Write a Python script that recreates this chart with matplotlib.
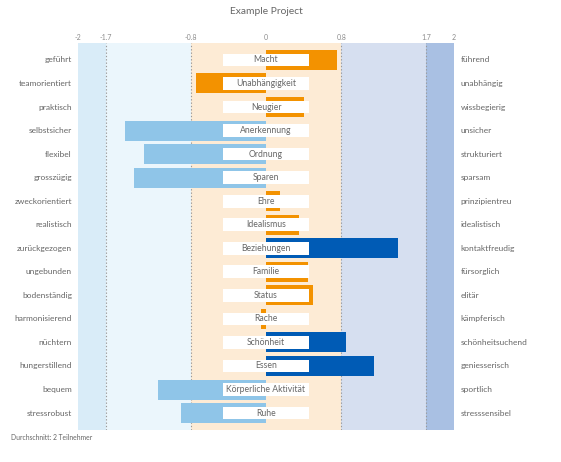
import matplotlib
matplotlib.use("Agg")
import matplotlib.pyplot as plt

# Profile data: one row per dimension, values between -2 and 2
dimensions = ["Macht", "Unabhängigkeit", "Neugier", "Anerkennung", "Ordnung",
              "Sparen", "Ehre", "Idealismus", "Beziehungen", "Familie",
              "Status", "Rache", "Schönheit", "Essen",
              "Körperliche Aktivität", "Ruhe"]
left_poles = ["geführt", "teamorientiert", "praktisch", "selbstsicher",
              "flexibel", "grosszügig", "zweckorientiert", "realistisch",
              "zurückgezogen", "ungebunden", "bodenständig", "harmonisierend",
              "nüchtern", "hungerstillend", "bequem", "stressrobust"]
right_poles = ["führend", "unabhängig", "wissbegierig", "unsicher",
               "strukturiert", "sparsam", "prinzipientreu", "idealistisch",
               "kontaktfreudig", "fürsorglich", "elitär", "kämpferisch",
               "schönheitsuchend", "geniesserisch", "sportlich", "stresssensibel"]
values = [0.75, -0.75, 0.4, -1.5, -1.3, -1.4, 0.15, 0.35, 1.4, 0.45,
          0.5, -0.05, 0.85, 1.15, -1.15, -0.9]

band_edges = [-2, -1.7, -0.8, 0.8, 1.7, 2]
band_colors = ["#d9ecf8", "#ebf6fc", "#fdebd5", "#d6dff0", "#a9c0e3"]
tick_vals = [-2, -1.7, -0.8, 0, 0.8, 1.7, 2]
tick_labels = ["-2", "-1.7", "-0.8", "0", "0.8", "1.7", "2"]

ORANGE = "#f39200"
LIGHT_BLUE = "#8fc5e8"
DARK_BLUE = "#005bb5"
GREY = "#666666"

plt.rcParams['font.family'] = ['Lato', 'DejaVu Sans']

fig = plt.figure(figsize=(5.61, 4.62), dpi=100)
ax = fig.add_axes([78 / 561, 1 - 430 / 462, 376 / 561, 387 / 462])

n = len(dimensions)
for i in range(len(band_colors)):
    ax.axvspan(band_edges[i], band_edges[i + 1], color=band_colors[i], lw=0, zorder=0)
for x in [-1.7, -0.8, 0.8, 1.7]:
    ax.axvline(x, color="#9a9a9a", lw=0.8, ls=(0, (1.2, 1.8)), zorder=1)


def bar_color(v):
    if v > 0.8:
        return DARK_BLUE
    if v < -0.8:
        return LIGHT_BLUE
    return ORANGE


rows = list(range(n))
ax.barh(rows, values, height=0.85, color=[bar_color(v) for v in values], zorder=2)

for i in rows:
    ax.add_patch(plt.Rectangle((-0.46, i - 0.27), 0.92, 0.54, facecolor="white",
                               edgecolor="none", zorder=3))
    ax.text(0, i, dimensions[i], ha="center", va="center", fontsize=6.2,
            color=GREY, zorder=4)
    ax.text(-2.065, i, left_poles[i], ha="right", va="center", fontsize=6.0,
            color=GREY)
    ax.text(2.07, i, right_poles[i], ha="left", va="center", fontsize=6.0,
            color=GREY)

ax.set_xlim(-2, 2)
ax.set_ylim(n - 1 + 0.72, -0.72)
ax.set_xticks(tick_vals)
ax.set_xticklabels(tick_labels)
ax.xaxis.tick_top()
ax.tick_params(axis="x", length=0, labelsize=5, labelcolor="#8c8c8c", pad=1.5)
ax.set_yticks([])
for s in ax.spines.values():
    s.set_visible(False)

fig.text(266 / 561, 1 - 11 / 462, "Example Project", ha="center", va="center",
         fontsize=7.4, color=GREY)
fig.text(11 / 561, 1 - 437 / 462, "Durchschnitt: 2 Teilnehmer", ha="left",
         va="center", fontsize=4.9, color=GREY)

fig.savefig("out.png", dpi=100)
